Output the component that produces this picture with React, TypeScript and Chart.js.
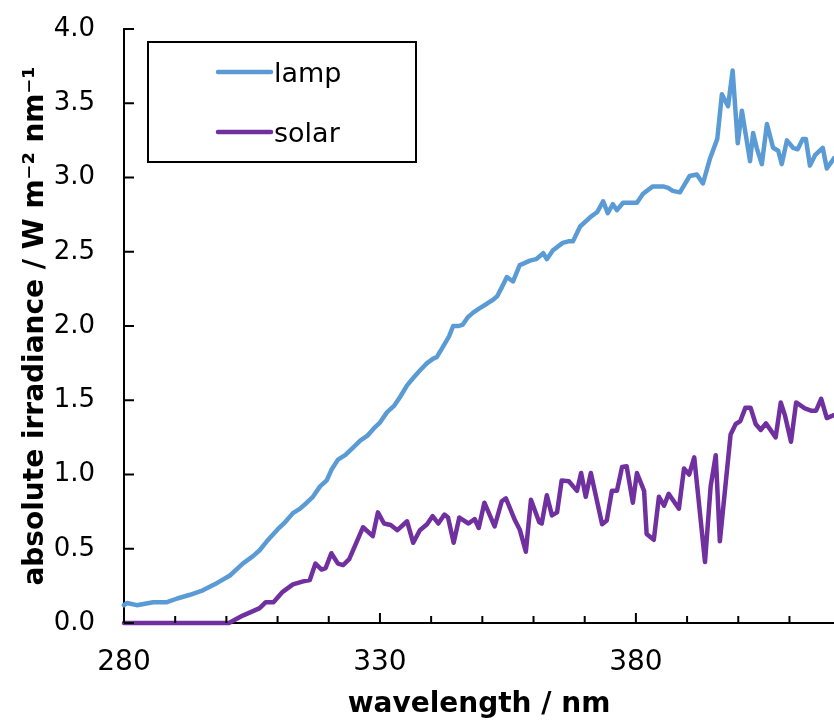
import React, { useEffect, useRef } from 'react';
import { Chart, registerables } from 'chart.js';

Chart.register(...registerables);

// ---- data ----
const lampWavelength = [280, 280.6, 282.5, 285.7, 288.4, 290.4, 292.9, 295.4, 298.2, 300.7, 303.2, 305.2, 306.5, 307.9, 310, 311.5, 313, 314.4, 315.7, 316.9, 318.3, 319.6, 320.5, 321.8, 323.2, 324.7, 326.2, 327.5, 328.8, 330, 331.4, 332.7, 333.9, 335.3, 336.5, 337.8, 339.2, 340.4, 341.1, 342.3, 343.5, 344.3, 345.4, 346.2, 347.2, 348.2, 349.5, 350.9, 352.2, 352.9, 353.8, 354.8, 356, 357.3, 358, 359.3, 360.5, 361.9, 362.6, 363.8, 365.7, 366.8, 367.7, 369.1, 371, 372.5, 373.6, 374.5, 375.5, 376.3, 377.5, 380.2, 381.4, 383.3, 385.3, 386.3, 387.2, 388.6, 390.5, 391.9, 393.1, 394.5, 395.9, 396.8, 398, 398.9, 399.9, 400.7, 402.3, 402.9, 403.6, 404.6, 405.6, 406.8, 407.8, 408.5, 409.5, 410.7, 411.6, 412.6, 413.2, 414, 415, 416.5, 417.3, 418.7];
const lampIrradiance = [0.12, 0.135, 0.12, 0.14, 0.14, 0.165, 0.19, 0.22, 0.27, 0.32, 0.4, 0.45, 0.49, 0.55, 0.63, 0.68, 0.74, 0.77, 0.81, 0.85, 0.92, 0.96, 1.03, 1.1, 1.13, 1.18, 1.23, 1.26, 1.31, 1.35, 1.42, 1.46, 1.52, 1.6, 1.65, 1.7, 1.75, 1.78, 1.79, 1.86, 1.93, 2.0, 2.0, 2.01, 2.06, 2.09, 2.12, 2.15, 2.18, 2.2, 2.26, 2.33, 2.3, 2.41, 2.42, 2.44, 2.45, 2.49, 2.45, 2.51, 2.56, 2.57, 2.57, 2.67, 2.73, 2.77, 2.84, 2.76, 2.82, 2.78, 2.83, 2.83, 2.89, 2.94, 2.94, 2.93, 2.91, 2.9, 3.01, 3.02, 2.96, 3.13, 3.26, 3.56, 3.48, 3.72, 3.23, 3.45, 3.11, 3.3, 3.2, 3.09, 3.36, 3.2, 3.18, 3.09, 3.25, 3.2, 3.19, 3.26, 3.26, 3.08, 3.15, 3.2, 3.06, 3.13];

const solarWavelength = [280, 300.5, 303.2, 305.2, 306.5, 307.7, 309.2, 311, 313, 315, 316.3, 317.4, 318.6, 319.4, 320.5, 321.8, 322.8, 324, 326.7, 328.6, 329.6, 330.8, 332.1, 333.4, 335.3, 336.5, 337.8, 339.2, 340.3, 341.4, 342.6, 343.3, 344.4, 345.5, 347.3, 348.5, 349.3, 350.4, 352.4, 353.8, 354.6, 356.4, 357.3, 358.5, 359.5, 361.1, 361.6, 362.6, 363.6, 364.6, 365.5, 366.9, 368.5, 369.3, 370.2, 371.2, 373.4, 374.3, 375.3, 376.3, 377.3, 378.2, 379.4, 380.2, 381.6, 382.1, 383.5, 384.5, 385.5, 386.4, 388.4, 389.4, 390.4, 391.4, 393.5, 394.6, 395.6, 396.4, 398.5, 399.5, 400.4, 401.4, 402.4, 403.4, 404.4, 405.4, 407.3, 408.3, 409.1, 410.3, 411.3, 413, 414.2, 415.2, 416.2, 417.3, 418.7];
const solarIrradiance = [0, 0, 0.05, 0.08, 0.1, 0.14, 0.14, 0.21, 0.26, 0.28, 0.29, 0.4, 0.36, 0.37, 0.47, 0.4, 0.39, 0.43, 0.645, 0.585, 0.745, 0.67, 0.66, 0.625, 0.685, 0.54, 0.625, 0.665, 0.72, 0.67, 0.73, 0.71, 0.54, 0.71, 0.67, 0.7, 0.64, 0.81, 0.65, 0.82, 0.84, 0.69, 0.63, 0.48, 0.83, 0.68, 0.67, 0.86, 0.725, 0.745, 0.96, 0.955, 0.89, 1.01, 0.85, 1.01, 0.665, 0.69, 0.89, 0.89, 1.05, 1.055, 0.81, 1.01, 0.89, 0.6, 0.56, 0.85, 0.79, 0.87, 0.77, 1.04, 1.0, 1.115, 0.41, 0.92, 1.13, 0.55, 1.27, 1.34, 1.36, 1.45, 1.45, 1.34, 1.3, 1.345, 1.25, 1.485, 1.4, 1.22, 1.485, 1.445, 1.43, 1.43, 1.51, 1.38, 1.4];

const seriesNames = ['lamp', 'solar'];
const seriesColors = ['#5B9BD5', '#7030A0'];
const xLabelledTicks = [280, 330, 380];
const xTitle = 'wavelength / nm';
const yTitle = 'absolute irradiance / W m\u207B\u00B2 nm\u207B\u00B9';

const FONT = '"DejaVu Sans", Verdana, sans-serif';

export default function App() {
  const ref = useRef<HTMLCanvasElement>(null);

  useEffect(() => {
    if (!ref.current) return;

    const insideTicks = {
      id: 'insideTicks',
      afterDatasetsDraw(chart: any) {
        const { ctx, chartArea, scales } = chart;
        ctx.save();
        ctx.strokeStyle = '#000';
        ctx.lineWidth = 2;
        ctx.beginPath();
        scales.x.ticks.forEach((t: any) => {
          const v = Math.round(t.value * 1000) / 1000;
          if (Math.abs(v % 10) > 1e-6) return;
          const px = scales.x.getPixelForValue(v);
          const len = xLabelledTicks.includes(v) ? 10 : 7;
          ctx.moveTo(px, chartArea.bottom);
          ctx.lineTo(px, chartArea.bottom - len);
        });
        scales.y.ticks.forEach((t: any) => {
          const py = scales.y.getPixelForValue(t.value);
          ctx.moveTo(chartArea.left, py);
          ctx.lineTo(chartArea.left + 10, py);
        });
        ctx.stroke();
        ctx.restore();
      },
    };

    const boxLegend = {
      id: 'boxLegend',
      afterDraw(chart: any) {
        const { ctx } = chart;
        ctx.save();
        const bx = 148, by = 42, bw = 268, bh = 120;
        ctx.fillStyle = '#fff';
        ctx.fillRect(bx, by, bw, bh);
        ctx.strokeStyle = '#000';
        ctx.lineWidth = 2;
        ctx.strokeRect(bx, by, bw, bh);
        chart.data.datasets.forEach((ds: any, i: number) => {
          const ly = 72 + i * 60;
          ctx.strokeStyle = ds.borderColor;
          ctx.lineWidth = 4.5;
          ctx.lineCap = 'round';
          ctx.beginPath();
          ctx.moveTo(218, ly);
          ctx.lineTo(271, ly);
          ctx.stroke();
          ctx.fillStyle = '#000';
          ctx.font = `27px ${FONT}`;
          ctx.textBaseline = 'alphabetic';
          ctx.textAlign = 'left';
          ctx.fillText(ds.label, 274, ly + 10);
        });
        ctx.restore();
      },
    };

    const chart = new Chart(ref.current, {
      type: 'line',
      data: {
        datasets: [
          {
            label: seriesNames[0],
            data: lampWavelength.map((x, i) => ({ x, y: lampIrradiance[i] })),
            borderColor: seriesColors[0],
            backgroundColor: seriesColors[0],
            borderWidth: 4.5,
            pointRadius: 0,
            tension: 0,
            borderJoinStyle: 'round',
            borderCapStyle: 'round',
            clip: false,
          },
          {
            label: seriesNames[1],
            data: solarWavelength.map((x, i) => ({ x, y: solarIrradiance[i] })),
            borderColor: seriesColors[1],
            backgroundColor: seriesColors[1],
            borderWidth: 4.5,
            pointRadius: 0,
            tension: 0,
            borderJoinStyle: 'round',
            borderCapStyle: 'round',
            clip: false,
          },
        ],
      },
      options: {
        animation: false,
        responsive: true,
        maintainAspectRatio: false,
        layout: { padding: { top: 29, left: 0, right: 0, bottom: 0 } },
        plugins: {
          legend: { display: false },
          tooltip: { enabled: false },
        },
        scales: {
          x: {
            type: 'linear',
            min: 280,
            max: 418.7,
            grid: { display: false, drawTicks: false },
            border: { display: true, color: '#000', width: 2 },
            ticks: {
              stepSize: 10,
              includeBounds: false,
              autoSkip: false,
              maxRotation: 0,
              padding: 23,
              color: '#000',
              font: { family: FONT, size: 28 },
              callback: (v: any) => (xLabelledTicks.includes(Number(v)) ? String(v) : ''),
            },
            title: {
              display: true,
              text: xTitle,
              color: '#000',
              font: { family: FONT, size: 28, weight: 'bold' },
              padding: { top: 0, bottom: 0 },
            },
            afterFit: (s: any) => {
              s.height = 99;
              s.paddingLeft = 0;
              s.paddingRight = 0;
            },
          },
          y: {
            type: 'linear',
            min: 0,
            max: 4,
            grid: { display: false, drawTicks: false },
            border: { display: true, color: '#000', width: 2 },
            ticks: {
              stepSize: 0.5,
              padding: 29,
              color: '#000',
              font: { family: FONT, size: 26 },
              callback: (v: any) => Number(v).toFixed(1),
            },
            title: {
              display: true,
              text: yTitle,
              color: '#000',
              font: { family: FONT, size: 28, weight: 'bold' },
              padding: { top: 19, bottom: 0 },
            },
            afterFit: (s: any) => {
              s.width = 124;
              s.paddingTop = 0;
              s.paddingBottom = 0;
            },
          },
        },
      },
      plugins: [insideTicks, boxLegend],
    } as any);

    return () => chart.destroy();
  }, []);

  return (
    <div style={{ position: 'fixed', left: 0, top: 0, width: 834, height: 722, background: '#fff' }}>
      <canvas ref={ref} />
    </div>
  );
}
